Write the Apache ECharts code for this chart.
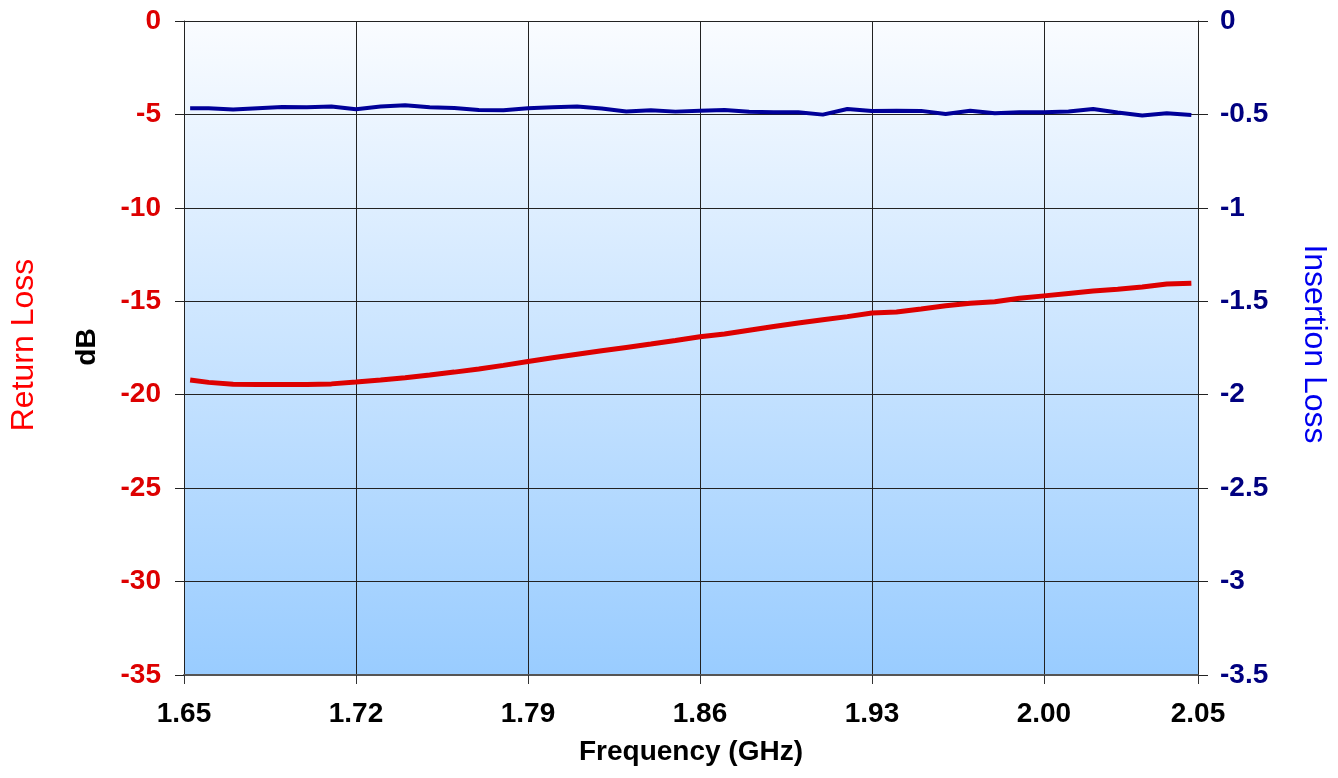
<!DOCTYPE html>
<html>
<head>
<meta charset="utf-8">
<script src="https://cdn.jsdelivr.net/npm/echarts@6/dist/echarts.min.js"></script>
<style>
html,body{margin:0;padding:0;background:#fff;}
#chart{width:1338px;height:778px;}
</style>
</head>
<body>
<div id="chart"></div>
<script>
// Frequency samples (GHz)
const freqGHz = [1.6525, 1.66, 1.67, 1.68, 1.69, 1.70, 1.71, 1.72, 1.73, 1.74, 1.75, 1.76, 1.77, 1.78, 1.79, 1.80, 1.81, 1.82, 1.83, 1.84, 1.85, 1.86, 1.87, 1.88, 1.89, 1.90, 1.91, 1.92, 1.93, 1.94, 1.95, 1.96, 1.97, 1.98, 1.99, 2.00, 2.01, 2.02, 2.03, 2.04, 2.05, 2.06];
// Return loss (dB, left axis)
const returnLoss = [-19.21, -19.34, -19.44, -19.45, -19.45, -19.45, -19.42, -19.32, -19.21, -19.09, -18.95, -18.79, -18.62, -18.43, -18.22, -18.02, -17.83, -17.65, -17.47, -17.29, -17.10, -16.90, -16.75, -16.55, -16.35, -16.16, -15.99, -15.82, -15.63, -15.57, -15.41, -15.24, -15.11, -15.02, -14.84, -14.71, -14.58, -14.45, -14.35, -14.24, -14.08, -14.03];
// Insertion loss (dB, right axis)
const insertionLoss = [-0.467, -0.467, -0.474, -0.467, -0.460, -0.462, -0.458, -0.472, -0.458, -0.451, -0.462, -0.466, -0.476, -0.478, -0.467, -0.462, -0.458, -0.468, -0.484, -0.478, -0.485, -0.480, -0.476, -0.486, -0.488, -0.488, -0.501, -0.471, -0.482, -0.480, -0.481, -0.498, -0.480, -0.494, -0.488, -0.488, -0.484, -0.471, -0.490, -0.506, -0.494, -0.503];
// Axis tick labels
const xTickLabels = ['1.65', '1.72', '1.79', '1.86', '1.93', '2.00', '2.05'];
const xTitle = 'Frequency (GHz)';
const leftTitle = 'Return Loss';
const leftUnit = 'dB';
const rightTitle = 'Insertion Loss';

const rlData = freqGHz.map((f, i) => [f, returnLoss[i]]);
const ilData = freqGHz.map((f, i) => [f, insertionLoss[i]]);

const chart = echarts.init(document.getElementById('chart'), null, {renderer: 'canvas'});
const FONT = 'Liberation Sans, Arial, sans-serif';

chart.setOption({
  animation: false,
  backgroundColor: '#ffffff',
  grid: {
    left: 184, right: 140, top: 21, bottom: 103,
    show: true,
    borderWidth: 0,
    backgroundColor: new echarts.graphic.LinearGradient(0, 0, 0, 1, [
      {offset: 0, color: '#FAFCFF'},
      {offset: 1, color: '#99CCFF'}
    ])
  },
  xAxis: {
    type: 'value',
    min: 1.65,
    max: 2.0627,
    interval: 0.07,
    name: xTitle,
    nameLocation: 'middle',
    nameGap: 63,
    nameTextStyle: {fontFamily: FONT, fontSize: 28, fontWeight: 'bold', color: '#000'},
    axisLine: {show: true, onZero: false, lineStyle: {color: '#555', width: 2}},
    axisTick: {show: true, inside: false, length: 9, lineStyle: {color: '#333', width: 1}},
    axisLabel: {
      show: true, showMinLabel: true, showMaxLabel: true,
      margin: 25,
      fontFamily: FONT, fontSize: 28, fontWeight: 'bold', color: '#000',
      formatter: (v, idx) => xTickLabels[idx] !== undefined ? xTickLabels[idx] : v.toFixed(2)
    },
    splitLine: {show: true, lineStyle: {color: '#222', width: 1}}
  },
  yAxis: [
    {
      type: 'value',
      position: 'left',
      min: -35, max: 0, interval: 5,
      axisLine: {show: true, onZero: false, lineStyle: {color: '#222', width: 1}},
      axisTick: {show: true, inside: false, length: 9, lineStyle: {color: '#222'}},
      axisLabel: {margin: 23, fontFamily: FONT, fontSize: 28, fontWeight: 'bold', color: '#DD0000'},
      splitLine: {show: true, lineStyle: {color: '#222', width: 1}}
    },
    {
      type: 'value',
      position: 'right',
      min: -3.5, max: 0, interval: 0.5,
      axisLine: {show: true, onZero: false, lineStyle: {color: '#222', width: 1}},
      axisTick: {show: true, inside: false, length: 10, lineStyle: {color: '#222'}},
      axisLabel: {margin: 22, fontFamily: FONT, fontSize: 28, fontWeight: 'bold', color: '#000080'},
      splitLine: {show: false}
    }
  ],
  graphic: [
    {type: 'text', x: 24, y: 345, rotation: Math.PI / 2,
      style: {text: leftTitle, fill: '#FF0000', font: '32px ' + FONT, align: 'center', verticalAlign: 'middle'}},
    {type: 'text', x: 87, y: 347, rotation: Math.PI / 2,
      style: {text: leftUnit, fill: '#000', font: 'bold 28px ' + FONT, align: 'center', verticalAlign: 'middle'}},
    {type: 'text', x: 1314, y: 344, rotation: -Math.PI / 2,
      style: {text: rightTitle, fill: '#0000EE', font: '32px ' + FONT, align: 'center', verticalAlign: 'middle'}}
  ],
  series: [
    {
      name: leftTitle, type: 'line', yAxisIndex: 0, data: rlData,
      showSymbol: false, symbol: 'none', smooth: false,
      lineStyle: {color: '#DD0000', width: 5}, z: 3
    },
    {
      name: rightTitle, type: 'line', yAxisIndex: 1, data: ilData,
      showSymbol: false, symbol: 'none', smooth: false,
      lineStyle: {color: '#000099', width: 4}, z: 4
    }
  ]
});
</script>
</body>
</html>
